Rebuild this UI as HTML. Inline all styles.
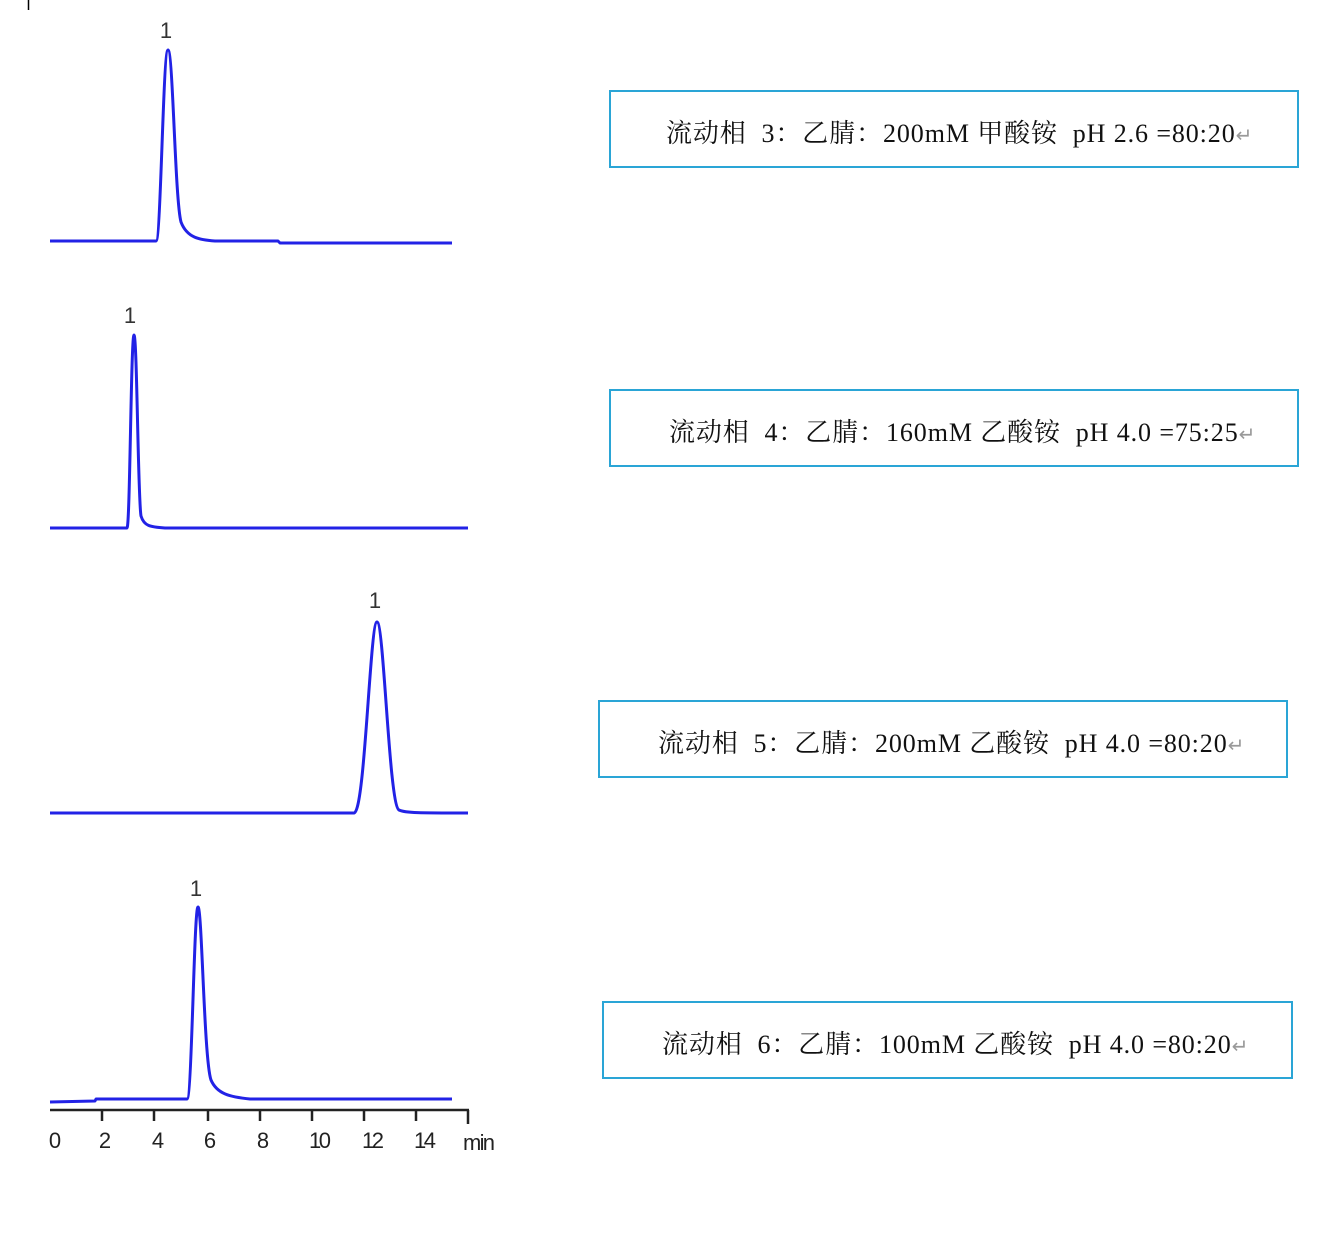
<!DOCTYPE html>
<html><head><meta charset="utf-8">
<style>
html,body{margin:0;padding:0;background:#fff;}
body{width:1321px;height:1252px;position:relative;overflow:hidden;}
.box{position:absolute;border:2px solid #2aa5d6;box-sizing:border-box;height:78px;
font-family:"Liberation Serif","Noto Serif CJK SC","Noto Sans CJK SC",serif;font-size:26px;letter-spacing:0.9px;color:#111;line-height:84px;white-space:pre;}
.box span.r{color:#999;font-size:20px;}
</style></head><body>
<svg width="1321" height="1252" style="position:absolute;left:0;top:0">
<line x1="28.5" y1="0" x2="28.5" y2="10" stroke="#000" stroke-width="1.5"/>
<g fill="none" stroke="#2222e6" stroke-width="3" stroke-linejoin="round">
<path d="M50 241 L156 241 C161 241 163 50 168 50 C173 50 175 200 181 222 C187 238 200 240 215 241 L278 241 L280 243 L452 243"/>
<path d="M50 528 L127 528 C130 528 131 335 134 335 C137 335 138 500 141 516 C144 526 150 527 165 528 L468 528"/>
<path d="M50 813 L354 813 C365 813 370 622 377 622 C384 622 389 805 399 810 C405 813 420 813 468 813"/>
<path d="M50 1102 L95 1101 L96 1099 L187 1099 C192 1099 194 907 198 907 C202 907 204 1060 211 1080 C217 1094 230 1097 250 1099 L452 1099"/>
</g>
<g font-family="Liberation Sans, sans-serif" font-size="22" fill="#333" text-anchor="middle">
<text x="166" y="38">1</text>
<text x="130" y="323">1</text>
<text x="375" y="608">1</text>
<text x="196" y="896">1</text>
</g>
<g stroke="#222" stroke-width="2.5" fill="none">
<line x1="50" y1="1110" x2="469" y2="1110"/>
<line x1="102" y1="1110" x2="102" y2="1121"/>
<line x1="154" y1="1110" x2="154" y2="1121"/>
<line x1="208" y1="1110" x2="208" y2="1121"/>
<line x1="260" y1="1110" x2="260" y2="1121"/>
<line x1="312" y1="1110" x2="312" y2="1121"/>
<line x1="364" y1="1110" x2="364" y2="1121"/>
<line x1="416" y1="1110" x2="416" y2="1121"/>
<line x1="468" y1="1110" x2="468" y2="1124"/>
</g>
<g font-family="Liberation Sans Narrow, Liberation Sans, sans-serif" font-size="22" fill="#222" text-anchor="middle">
<text x="55" y="1148">0</text>
<text x="105" y="1148">2</text>
<text x="158" y="1148">4</text>
<text x="210" y="1148">6</text>
<text x="263" y="1148">8</text>
<text x="320" y="1148" textLength="22">10</text>
<text x="373" y="1148" textLength="22">12</text>
<text x="425" y="1148" textLength="22">14</text>
<text x="479" y="1150" textLength="32">min</text>
</g>
</svg>
<div class="box" style="left:609px;top:90px;width:690px;padding-left:55px;">流动相  3：乙腈：200mM 甲酸铵  pH 2.6 =80:20<span class="r">↵</span></div>
<div class="box" style="left:609px;top:389px;width:690px;padding-left:58px;">流动相  4：乙腈：160mM 乙酸铵  pH 4.0 =75:25<span class="r">↵</span></div>
<div class="box" style="left:598px;top:700px;width:690px;padding-left:58px;">流动相  5：乙腈：200mM 乙酸铵  pH 4.0 =80:20<span class="r">↵</span></div>
<div class="box" style="left:602px;top:1001px;width:691px;padding-left:58px;">流动相  6：乙腈：100mM 乙酸铵  pH 4.0 =80:20<span class="r">↵</span></div>
</body></html>
